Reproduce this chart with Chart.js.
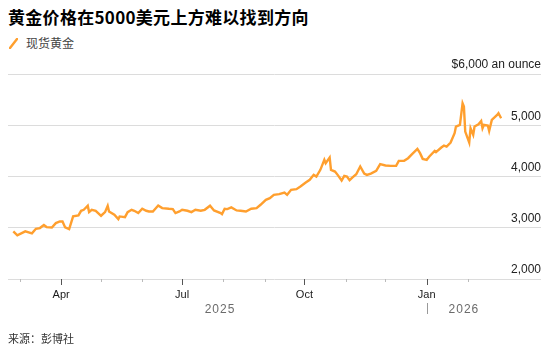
<!DOCTYPE html>
<html>
<head>
<meta charset="utf-8">
<script src="https://cdn.jsdelivr.net/npm/chart.js@4.4.1/dist/chart.umd.min.js"></script>
<style>
body { margin: 0; background: #fff; width: 554px; height: 354px; overflow: hidden; position: relative; font-family: "Noto Sans CJK SC", sans-serif; }
#title { position: absolute; left: 8px; top: 6px; font-size: 17px; font-weight: bold; line-height: 22px; color: #000; white-space: nowrap; letter-spacing: 0.3px; }
#legend { position: absolute; left: 9px; top: 35px; font-size: 12px; line-height: 16px; color: #444; white-space: nowrap; }
#legend svg { vertical-align: -1px; margin-right: 8px; }
#src { position: absolute; left: 8px; top: 331px; font-size: 11px; line-height: 14px; color: #333; }
canvas { position: absolute; left: 0; top: 0; }
</style>
</head>
<body>
<div id="title">黄金价格在5000美元上方难以找到方向</div>
<div id="legend"><svg width="9" height="11"><line x1="1" y1="10" x2="8" y2="1" stroke="#ff9f2e" stroke-width="2.4" stroke-linecap="round"/></svg>现货黄金</div>
<canvas id="chart" width="554" height="354"></canvas>
<div id="src">来源：彭博社</div>
<script>
// spot gold
const dates = [
  '2025-02-24','2025-02-27','2025-03-05','2025-03-10','2025-03-13','2025-03-16','2025-03-19','2025-03-21',
  '2025-03-25','2025-03-28','2025-03-31','2025-04-02','2025-04-04','2025-04-07','2025-04-10','2025-04-14',
  '2025-04-16','2025-04-18','2025-04-21','2025-04-22','2025-04-24','2025-04-27','2025-05-01','2025-05-04',
  '2025-05-06','2025-05-07','2025-05-11','2025-05-14','2025-05-15','2025-05-19','2025-05-21','2025-05-24',
  '2025-05-26','2025-05-29','2025-06-01','2025-06-04','2025-06-06','2025-06-09','2025-06-13','2025-06-16',
  '2025-06-21','2025-06-24','2025-06-26','2025-06-29','2025-07-01','2025-07-05','2025-07-08','2025-07-11',
  '2025-07-15','2025-07-18','2025-07-22','2025-07-25','2025-07-30','2025-07-31','2025-08-02','2025-08-04',
  '2025-08-07','2025-08-11','2025-08-14','2025-08-18','2025-08-22','2025-08-26','2025-08-29','2025-09-02',
  '2025-09-05','2025-09-08','2025-09-12','2025-09-16','2025-09-18','2025-09-21','2025-09-25','2025-09-28',
  '2025-10-02','2025-10-05','2025-10-08','2025-10-10','2025-10-13','2025-10-16','2025-10-17','2025-10-20',
  '2025-10-21','2025-10-24','2025-10-26','2025-10-29','2025-10-31','2025-11-02','2025-11-04','2025-11-06',
  '2025-11-09','2025-11-12','2025-11-15','2025-11-17','2025-11-20','2025-11-24','2025-11-27','2025-12-01',
  '2025-12-05','2025-12-09','2025-12-11','2025-12-15','2025-12-18','2025-12-21','2025-12-25','2025-12-27',
  '2025-12-29','2026-01-01','2026-01-03','2026-01-07','2026-01-08','2026-01-12','2026-01-14','2026-01-16',
  '2026-01-19','2026-01-22','2026-01-23','2026-01-26','2026-01-28','2026-01-29','2026-01-30','2026-02-02',
  '2026-02-03','2026-02-05','2026-02-06','2026-02-09','2026-02-11','2026-02-12','2026-02-13','2026-02-16',
  '2026-02-17','2026-02-19','2026-02-23','2026-02-24','2026-02-26'
]
const prices = [
  2929, 2851, 2929, 2890, 2980, 2994, 3052, 3013,
  3006, 3091, 3123, 3123, 3006, 2974, 3221, 3240,
  3331, 3350, 3429, 3305, 3350, 3331, 3234, 3305,
  3429, 3318, 3253, 3169, 3221, 3208, 3305, 3350,
  3331, 3286, 3370, 3331, 3318, 3318, 3435, 3383,
  3370, 3364, 3286, 3318, 3350, 3331, 3305, 3350,
  3331, 3350, 3429, 3338, 3286, 3266, 3370, 3364,
  3396, 3338, 3331, 3318, 3370, 3383, 3448, 3545,
  3578, 3643, 3656, 3688, 3643, 3740, 3753, 3805,
  3883, 3935, 4032, 4000, 4130, 4325, 4260, 4370,
  4130, 4097, 4032, 3922, 4013, 4000, 3929, 3980,
  4045, 4195, 4058, 4032, 4058, 4110, 4240, 4214,
  4208, 4208, 4305, 4305, 4357, 4435, 4539, 4455,
  4344, 4325, 4390, 4500, 4474, 4565, 4604, 4584,
  4662, 4844, 4974, 5006, 5429, 5364, 4877, 4662,
  4942, 4812, 4974, 5019, 5084, 4942, 5006, 4994,
  4890, 5104, 5201, 5234, 5136
]

const monthStarts = ['2025-03-01','2025-04-01','2025-05-01','2025-06-01','2025-07-01','2025-08-01',
  '2025-09-01','2025-10-01','2025-11-01','2025-12-01','2026-01-01','2026-02-01']
const monthLabels = ['', 'Apr', '', '', 'Jul', '', '', 'Oct', '', '', 'Jan', '']
const yearLabels = ['2025', '2026']
const yTicks = [2000, 3000, 4000, 5000, 6000]
const yLabels = ['2,000', '3,000', '4,000', '5,000', '$6,000 an ounce']

const day0 = Date.UTC(2025, 0, 1)
const toDay = s => (Date.parse(s) - day0) / 86400000

const axisExtras = {
  id: 'axisExtras',
  afterDraw(chart) {
    const c = chart.ctx, x = chart.scales.x, b = chart.chartArea.bottom
    c.save()
    c.lineWidth = 1
    monthStarts.forEach((m, i) => {
      const px = Math.round(x.getPixelForValue(toDay(m))) + 0.5
      const major = monthLabels[i] !== ''
      c.strokeStyle = major ? '#555' : '#bbb'
      c.beginPath()
      c.moveTo(px, b)
      c.lineTo(px, b + (major ? 6 : 3))
      c.stroke()
    })
    const first = x.getPixelForValue(toDay(dates[0]))
    const jan = x.getPixelForValue(toDay('2026-01-01'))
    const last = x.getPixelForValue(toDay(dates[dates.length - 1]))
    c.font = '12px "Liberation Sans"'
    c.fillStyle = '#6b6b6b'
    c.textAlign = 'center'
    c.textBaseline = 'middle'
    c.letterSpacing = '1px'
    c.fillText(yearLabels[0], (first + jan) / 2, b + 31)
    c.fillText(yearLabels[1], (jan + last) / 2, b + 31)
    c.strokeStyle = '#999'
    c.beginPath()
    c.moveTo(Math.round(jan) + 0.5, b + 24)
    c.lineTo(Math.round(jan) + 0.5, b + 35)
    c.stroke()
    c.restore()
  }
}

new Chart(document.getElementById('chart').getContext('2d'), {
  type: 'line',
  data: {
    datasets: [{
      data: dates.map((d, i) => ({ x: toDay(d), y: prices[i] })),
      borderColor: '#ff9f2e',
      borderWidth: 2.4,
      pointRadius: 0,
      tension: 0,
      fill: false
    }]
  },
  options: {
    responsive: false,
    animation: false,
    layout: { padding: { top: 74, left: 8, right: 13, bottom: 0 } },
    plugins: { legend: { display: false }, tooltip: { enabled: false } },
    scales: {
      x: {
        type: 'linear',
        min: toDay('2025-02-20'),
        max: toDay('2026-03-28'),
        afterBuildTicks: s => { s.ticks = monthStarts.map(m => ({ value: toDay(m) })) },
        afterFit: s => { s.height = 75 },
        grid: { display: false, drawTicks: false },
        border: { display: false },
        ticks: {
          autoSkip: false, maxRotation: 0, padding: 9, color: '#1a1a1a',
          font: { family: 'Liberation Sans', size: 11 },
          callback: (v, i) => monthLabels[i]
        }
      },
      y: {
        position: 'right',
        min: 2000,
        max: 6000,
        afterBuildTicks: s => { s.ticks = yTicks.map(v => ({ value: v })) },
        afterFit: s => { s.width = 0 },
        grid: { color: '#dcdcdc', lineWidth: 1, drawTicks: false },
        border: { display: false },
        ticks: {
          mirror: true, padding: 0, labelOffset: -9, color: '#222',
          font: { family: 'Liberation Sans', size: 12 },
          callback: (v, i) => yLabels[i]
        }
      }
    }
  },
  plugins: [axisExtras]
})
</script>
</body>
</html>
